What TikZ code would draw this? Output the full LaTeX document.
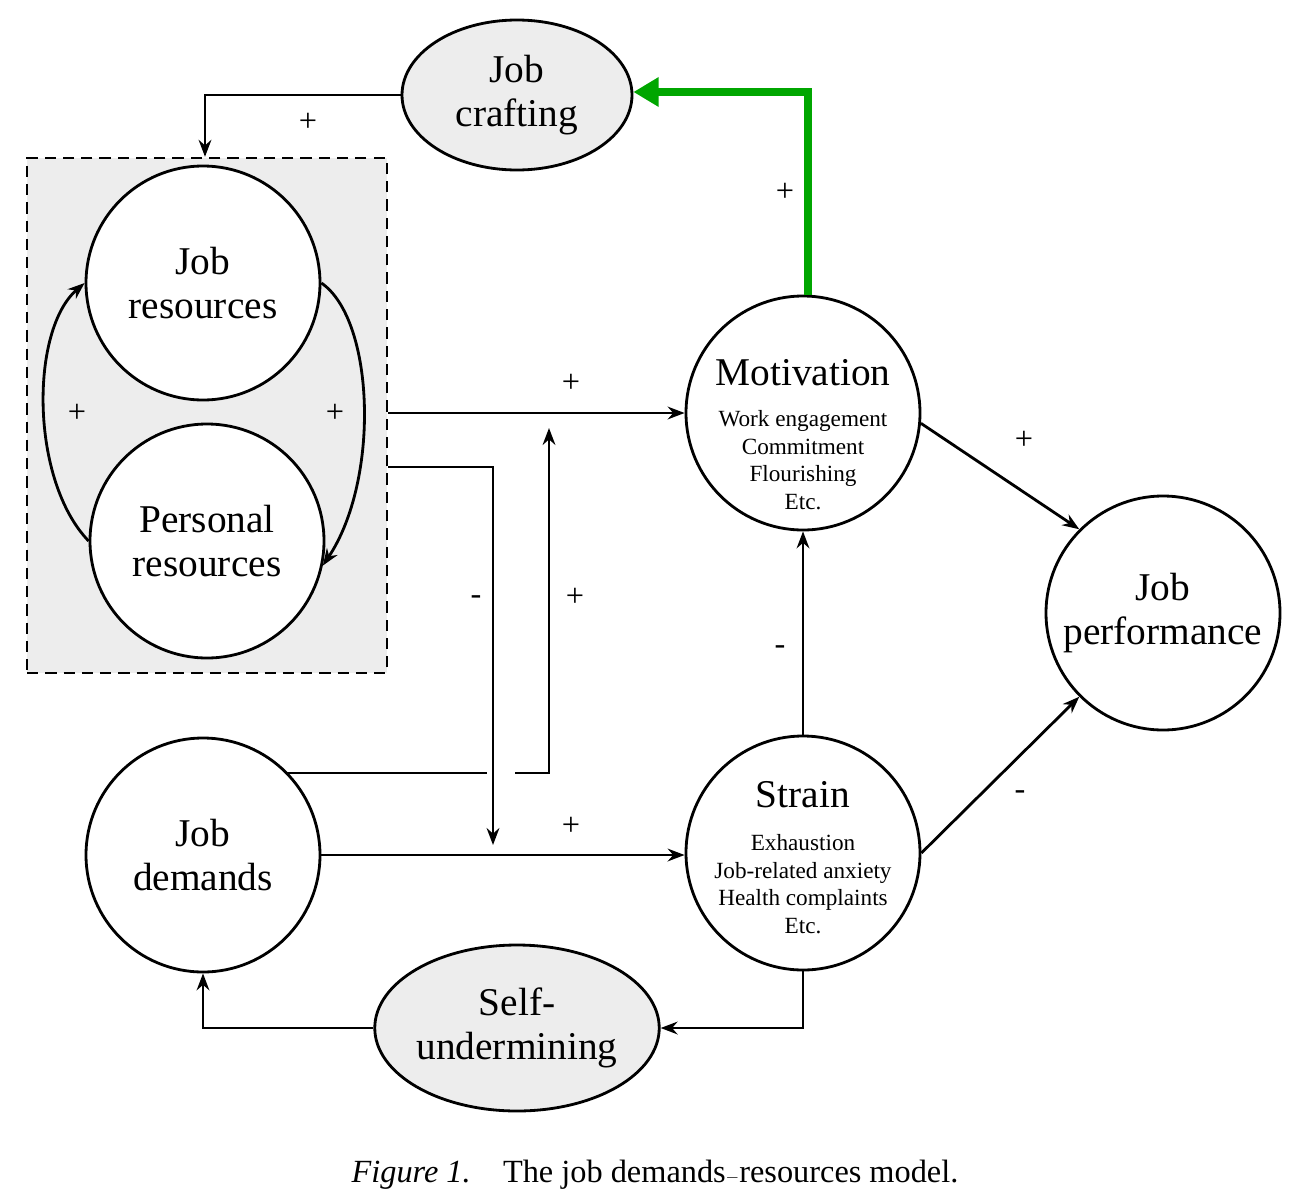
\documentclass[tikz,border=0pt]{standalone}
\usepackage{fontspec}
\setmainfont{Liberation Serif}
\usetikzlibrary{arrows.meta,shapes.geometric,calc}
\begin{document}
\begin{tikzpicture}[x=0.05cm,y=-0.05cm,
  circ/.style={circle,draw,line width=4pt,fill=white,minimum size=11.7cm,inner sep=0pt,align=center,font=\fontsize{56}{62}\selectfont},
  ell/.style={ellipse,draw,line width=4pt,fill=black!7,minimum width=11.5cm,inner sep=0pt,align=center,font=\fontsize{56}{62}\selectfont},
  con/.style={line width=4pt,-{Stealth[length=24pt,width=18pt]}},
  sgn/.style={font=\fontsize{46}{50}\selectfont},
  ttl/.style={font=\fontsize{56}{62}\selectfont},
  sm/.style={align=center,font=\fontsize{33}{39}\selectfont}]
\useasboundingbox (0,0) rectangle (1295,1200);
\node[draw,line width=3.5pt,fill=black!7,minimum width=18cm,minimum height=25.75cm,dash pattern=on 16pt off 10pt] (box) at (207,415.5) {};
\node[ell,minimum height=7.5cm] (jc) at (517,95) {Job\\crafting};
\node[ell,minimum height=8.3cm] (su) at (517,1028) {Self-\\undermining};
\node[circ] (jr) at (203,283) {Job\\resources};
\node[circ] (pr) at (207,541) {Personal\\resources};
\node[circ] (jd) at (203,855) {Job\\demands};
\node[circ] (mo) at (803,413) {};
\node[circ] (st) at (803,853) {};
\node[circ] (jp) at (1163,613) {Job\\performance};
\node[ttl] (mot) at (803,373) {Motivation};
\node[sm] (mos) at (803,460) {Work engagement\\Commitment\\Flourishing\\Etc.};
\node[ttl] (stt) at (803,795) {Strain};
\node[sm] (sts) at (803,884) {Exhaustion\\Job-related anxiety\\Health complaints\\Etc.};
\node[font=\itshape\fontsize{46}{50}\selectfont] (cap) at (655,1175) {Figure 1.\quad\upshape The job demands$-$resources model.};
\coordinate (c1) at (205,95);
\coordinate (c2) at (808,92);
\coordinate (c3) at (493,467);
\coordinate (c4) at (493,845);
\coordinate (c5) at (487,773);
\coordinate (c6) at (515,773);
\coordinate (c7) at (549,773);
\coordinate (c8) at (549,428);
\coordinate (c9) at (285,773);
\draw[con] (jc.west) -- (c1) -- (box.north -| c1);
\draw[line width=10pt,green!65!black,-{Triangle[length=36pt,width=40pt]}] (mo.north -| c2) -- (c2) -- (jc.east |- c2);
\draw[con] (box.east |- mo.west) -- (mo.west);
\draw[con] (box.east |- c3) -- (c3) -- (c4);
\draw[line width=4pt] (c9) -- (c5);
\draw[con] (c6) -- (c7) -- (c8);
\draw[con] (jd.east) -- (st.west |- jd.east);
\draw[con] (st.north) -- (mo.south);
\draw[con] (mo.-5) -- (jp.135);
\draw[con] (st.east) -- (jp.-135);
\draw[con] (st.south) -- (st.south |- su.east) -- (su.east);
\draw[con] (su.west) -- (su.west -| jd.south) -- (jd.south);
\draw[con] (pr.west) .. controls (30,480) and (30,330) .. (jr.west);
\draw[con] (jr.east) .. controls (375,320) and (380,480) .. (pr.-12);
\node[sgn] at (308,122) {+};
\node[sgn] at (785,192) {+};
\node[sgn] at (571,383) {+};
\node[sgn] at (476,600) {-};
\node[sgn] at (575,597) {+};
\node[sgn] at (571,826) {+};
\node[sgn] at (780,650) {-};
\node[sgn] at (1024,440) {+};
\node[sgn] at (1020,795) {-};
\node[sgn] at (77,413) {+};
\node[sgn] at (335,413) {+};
\end{tikzpicture}
\end{document}
